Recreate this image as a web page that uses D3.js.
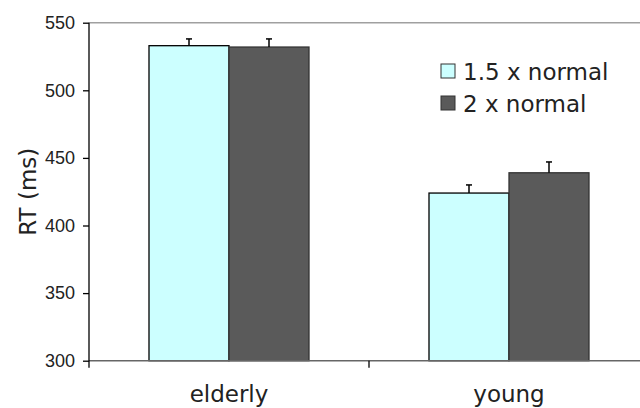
<!DOCTYPE html>
<html>
<head>
<meta charset="utf-8">
<script src="https://cdn.jsdelivr.net/npm/d3@7"></script>
<style>
  body { margin: 0; background: #fff; }
  svg { display: block; }
</style>
</head>
<body>
<svg id="chart" width="640" height="408"></svg>
<script>
// data
var categories = ["elderly", "young"];
var seriesNames = ["1.5 x normal", "2 x normal"];
var seriesColors = ["#ccffff", "#5a5a5a"];
var rt15 = [533, 424];
var rt2 = [532, 439];
var err15 = [5, 6];
var err2 = [6, 8];
var yTicks = [300, 350, 400, 450, 500, 550];

var svg = d3.select("#chart");
var pLeft = 89, pTop = 22.7, pBottom = 360.7, pRight = 649;

var y = d3.scaleLinear().domain([300, 550]).range([pBottom, pTop]);
var x0 = d3.scaleBand().domain(categories).range([pLeft, pRight]).padding(0);
var x1 = d3.scaleBand().domain(seriesNames).range([60, 220]).padding(0);

// plot area border (only the top is visible)
svg.append("line")
    .attr("x1", pLeft).attr("x2", 640)
    .attr("y1", pTop).attr("y2", pTop)
    .attr("stroke", "#a0a0a0").attr("stroke-width", 1.5);

// build rows
var rows = [];
categories.forEach(function(c, i) {
  rows.push({cat: c, s: 0, v: rt15[i], e: err15[i]});
  rows.push({cat: c, s: 1, v: rt2[i], e: err2[i]});
});

var g = svg.append("g");
g.selectAll("rect.bar").data(rows).enter().append("rect")
    .attr("class", "bar")
    .attr("x", function(d) { return x0(d.cat) + x1(seriesNames[d.s]); })
    .attr("width", x1.bandwidth())
    .attr("y", function(d) { return y(d.v); })
    .attr("height", function(d) { return pBottom - y(d.v); })
    .attr("fill", function(d) { return seriesColors[d.s]; })
    .attr("stroke", function(d) { return d.s ? "#333" : "#000"; })
    .attr("stroke-width", 1.3);

// error bars (upper only)
rows.forEach(function(d) {
  var cx = x0(d.cat) + x1(seriesNames[d.s]) + x1.bandwidth() / 2;
  g.append("line")
      .attr("x1", cx).attr("x2", cx)
      .attr("y1", y(d.v)).attr("y2", y(d.v + d.e))
      .attr("stroke", "#000").attr("stroke-width", 1.5);
  g.append("line")
      .attr("x1", cx - 3).attr("x2", cx + 3)
      .attr("y1", y(d.v + d.e)).attr("y2", y(d.v + d.e))
      .attr("stroke", "#000").attr("stroke-width", 1.5);
});

// x axis
svg.append("line")
    .attr("x1", pLeft).attr("x2", 640)
    .attr("y1", pBottom).attr("y2", pBottom)
    .attr("stroke", "#666").attr("stroke-width", 1.5);
svg.append("line")
    .attr("x1", x0("young")).attr("x2", x0("young"))
    .attr("y1", pBottom).attr("y2", pBottom + 7)
    .attr("stroke", "#000").attr("stroke-width", 1.3);
svg.selectAll("text.xlab").data(categories).enter().append("text")
    .attr("class", "xlab")
    .attr("x", function(d) { return x0(d) + x0.bandwidth() / 2; })
    .attr("y", 402)
    .attr("text-anchor", "middle")
    .attr("font-family", "Verdana, 'DejaVu Sans', sans-serif")
    .attr("font-size", 23)
    .attr("fill", "#222")
    .text(function(d) { return d; });

// y axis
var yAxis = d3.axisLeft(y).tickValues(yTicks).tickSize(6).tickPadding(8);
var ya = svg.append("g").attr("transform", "translate(" + pLeft + ",0)").call(yAxis);
ya.select(".domain").attr("d", "M0," + pTop + "V" + (pBottom + 7))
    .attr("stroke", "#000").attr("stroke-width", 1.3);
ya.selectAll(".tick line").attr("stroke", "#000").attr("stroke-width", 1.3);
ya.selectAll(".tick text")
    .attr("font-family", "Arial, 'Liberation Sans', sans-serif")
    .attr("font-size", 18)
    .attr("fill", "#222");

svg.append("text")
    .attr("transform", "translate(36," + ((pTop + pBottom) / 2) + ") rotate(-90)")
    .attr("text-anchor", "middle")
    .attr("font-family", "Verdana, 'DejaVu Sans', sans-serif")
    .attr("font-size", 23)
    .attr("fill", "#222")
    .text("RT (ms)");

// legend
var leg = svg.selectAll("g.leg").data(seriesNames).enter().append("g")
    .attr("class", "leg")
    .attr("transform", function(d, i) { return "translate(441," + (64 + i * 32) + ")"; });
leg.append("rect")
    .attr("width", 14).attr("height", 14)
    .attr("fill", function(d, i) { return seriesColors[i]; })
    .attr("stroke", "#333").attr("stroke-width", 1);
leg.append("text")
    .attr("x", 22).attr("y", 15.5)
    .attr("font-family", "Verdana, 'DejaVu Sans', sans-serif")
    .attr("font-size", 23)
    .attr("fill", "#222")
    .text(function(d) { return d; });
</script>
</body>
</html>
